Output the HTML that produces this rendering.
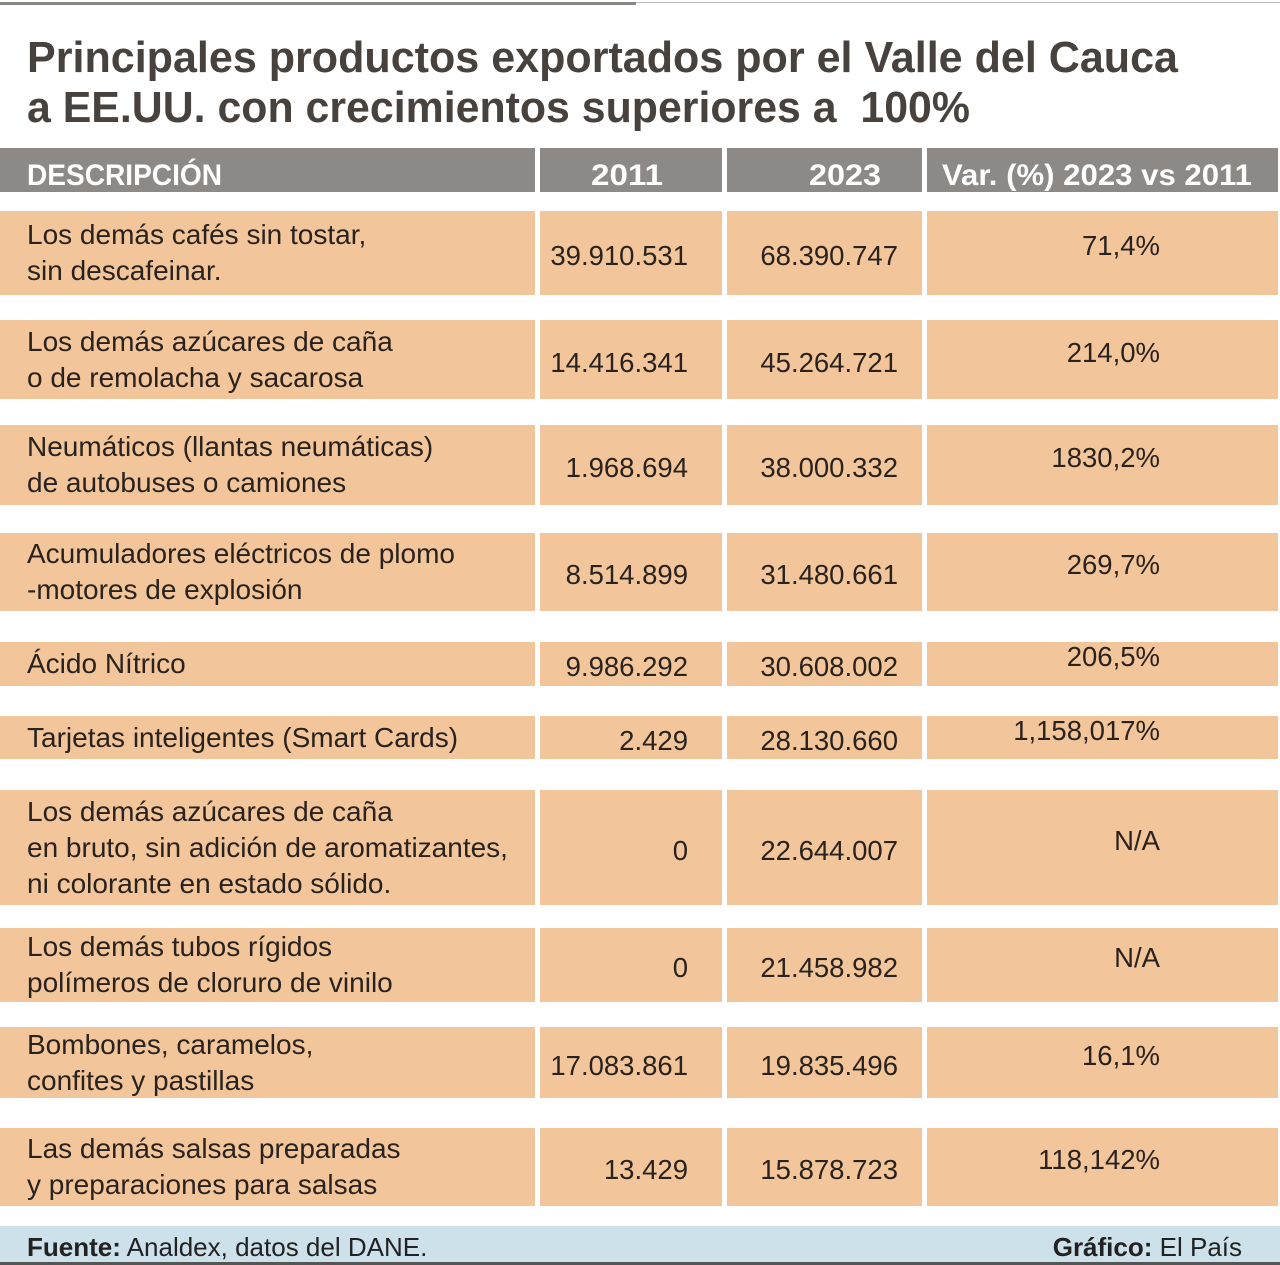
<!DOCTYPE html>
<html><head><meta charset="utf-8"><style>
body{margin:0;width:1280px;height:1265px;background:#fff;position:relative;overflow:hidden;font-family:"Liberation Sans",sans-serif}
div{position:absolute}
.t{position:absolute;white-space:nowrap;line-height:1}
.ti{font-weight:bold;font-size:44px;color:#48423f;transform-origin:0 0}
.h{background:#8c8987;top:148px;height:44px}
.ht{color:#fff;font-weight:bold;font-size:30px;transform-origin:0 0}
.r{background:#f2c69a}
.d{font-size:28px;color:#2a221e;line-height:36px;left:27px;white-space:nowrap}
.n{font-size:27.5px;color:#2a221e;text-align:right}
.fit{display:inline-block}
</style></head><body>
<div style="left:0;top:2px;width:636px;height:3px;background:#8a8684"></div>
<div style="left:636px;top:2px;width:644px;height:1px;background:#bbb"></div>
<span class="t ti fit" style="left:27px;top:36px;--w:1151px">Principales productos exportados por el Valle del Cauca</span>
<span class="t ti fit" style="left:27px;top:86px;--w:943px">a EE.UU. con crecimientos superiores a&nbsp; 100%</span>

<div class="h" style="left:0;width:535px"></div>
<div class="h" style="left:540px;width:182px"></div>
<div class="h" style="left:727px;width:195px"></div>
<div class="h" style="left:927px;width:351px"></div>
<span class="t ht fit" style="left:27px;top:161px;--w:195px">DESCRIPCIÓN</span>
<span class="t ht fit" style="left:591px;top:161px;--w:72px">2011</span>
<span class="t ht fit" style="left:809px;top:161px;--w:72px">2023</span>
<span class="t ht fit" style="left:942px;top:161px;--w:310px">Var. (%) 2023 vs 2011</span>

<div id="rows"></div>
<div style="left:0;top:1226px;width:1280px;height:36px;background:#cde1ea"></div>
<div style="left:0;top:1262px;width:1280px;height:3px;background:#555"></div>
<span class="t" style="left:27px;top:1234px;font-size:26px;color:#222"><b>Fuente:</b> Analdex, datos del DANE.</span>
<span class="t" style="right:38px;top:1234px;font-size:26px;color:#222"><b>Gráfico:</b> El País</span>
<script>
var R=[
[211,295,["Los demás cafés sin tostar,","sin descafeinar."],"39.910.531","68.390.747","71,4%"],
[320,399,["Los demás azúcares de caña","o de remolacha y sacarosa"],"14.416.341","45.264.721","214,0%"],
[425,505,["Neumáticos (llantas neumáticas)","de autobuses o camiones"],"1.968.694","38.000.332","1830,2%"],
[533,611,["Acumuladores eléctricos de plomo","-motores de explosión"],"8.514.899","31.480.661","269,7%"],
[642,686,["Ácido Nítrico"],"9.986.292","30.608.002","206,5%"],
[716,759,["Tarjetas inteligentes (Smart Cards)"],"2.429","28.130.660","1,158,017%"],
[790,905,["Los demás azúcares de caña","en bruto, sin adición de aromatizantes,","ni colorante en estado sólido."],"0","22.644.007","N/A"],
[928,1002,["Los demás tubos rígidos","polímeros de cloruro de vinilo"],"0","21.458.982","N/A"],
[1027,1098,["Bombones, caramelos,","confites y pastillas"],"17.083.861","19.835.496","16,1%"],
[1128,1206,["Las demás salsas preparadas","y preparaciones para salsas"],"13.429","15.878.723","118,142%"]];
var h="";
R.forEach(function(r){
var a=r[0],b=r[1],H=b-a,c=(a+b)/2;
[[0,535],[540,182],[727,195],[927,351]].forEach(function(x){h+='<div class="r" style="left:'+x[0]+'px;top:'+a+'px;width:'+x[1]+'px;height:'+H+'px"></div>';});
var n=r[2].length,tt=c-n*18;
h+='<div class="d" style="top:'+tt+'px">'+r[2].join('<br>')+'</div>';
h+='<span class="t n" style="right:'+(1280-688)+'px;top:'+(c-11)+'px">'+r[3]+'</span>';
h+='<span class="t n" style="right:'+(1280-898)+'px;top:'+(c-11)+'px">'+r[4]+'</span>';
h+='<span class="t n" style="right:'+(1280-1160)+'px;top:'+(c-21)+'px">'+r[5]+'</span>';
});
document.getElementById('rows').outerHTML=h;
document.querySelectorAll('.fit').forEach(function(e){var w=parseFloat(e.style.getPropertyValue('--w'));var cw=e.getBoundingClientRect().width;if(cw>0)e.style.transform='scaleX('+(w/cw)+')';});
</script>
</body></html>
